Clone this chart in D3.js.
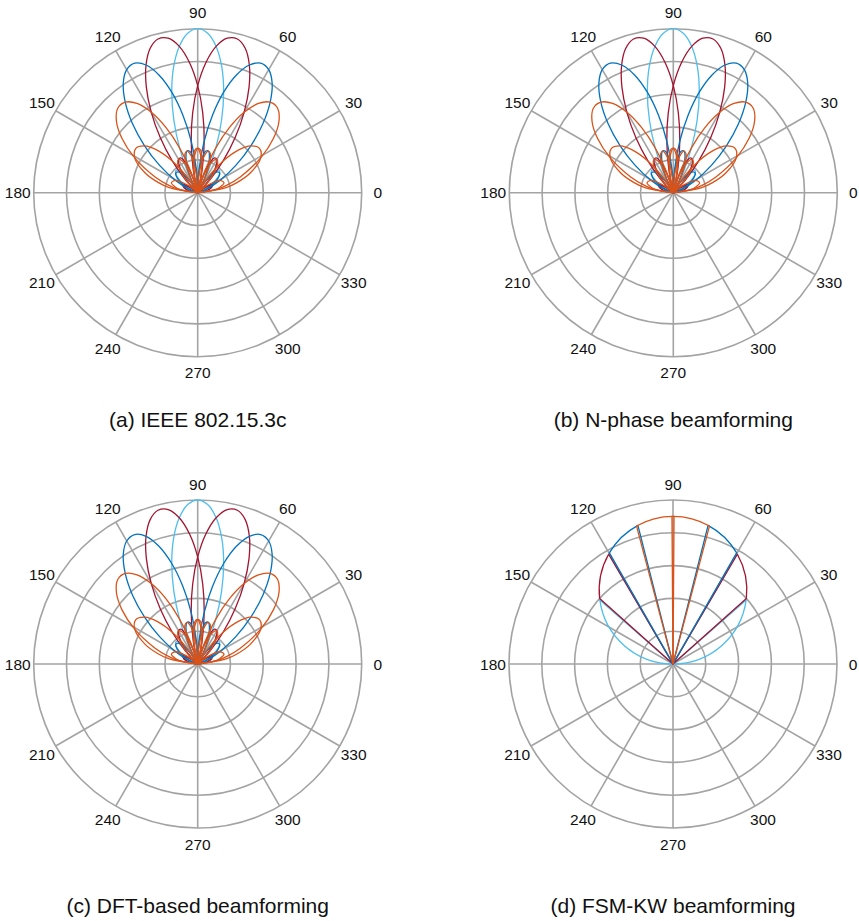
<!DOCTYPE html>
<html>
<head>
<meta charset="utf-8">
<script src="https://cdnjs.cloudflare.com/ajax/libs/d3/7.8.5/d3.min.js"></script>
<style>
	body { margin: 0; background: #fff; }
	svg { display: block; }
	text { font-family: "Liberation Sans", Arial, Helvetica, sans-serif; fill: #111; }
</style>
</head>
<body>
<svg id="chart" width="859" height="921"></svg>
<script>
// shared angle grid (degrees) for the beam patterns
var thetaDeg = [0, 10.14, 14.36, 20.36, 28.96, 35.66, 41.41, 46.57, 51.32, 55.77, 60, 64.06, 67.98, 71.79, 75.52, 79.19, 82.82, 86.42, 90,
	93.58, 97.18, 100.81, 104.48, 108.21, 112.02, 115.94, 120, 124.23, 128.68, 133.43, 138.59, 144.34, 151.04, 159.64, 165.64, 169.86, 180];

// gain, one list per beam
var beam90 = [0, .004, .012, .034, .087, .141, .179, .190, .166, .102, 0, .136, .295, .465, .633, .782, .899, .974, 1,
	.974, .899, .782, .633, .465, .295, .136, 0, .102, .166, .190, .179, .141, .087, .034, .012, .004, 0];
var beam76 = [0, .048, .067, .091, .103, .072, 0, .110, .248, .405, .566, .716, .840, .927, .968, .959, .899, .794, .653,
	.489, .316, .148, 0, .118, .197, .236, .234, .200, .141, .070, 0, .056, .087, .084, .065, .047, 0];
var beam104 = [0, .047, .065, .084, .087, .056, 0, .070, .141, .200, .234, .236, .197, .118, 0, .148, .316, .489, .653,
	.794, .899, .959, .968, .927, .840, .716, .566, .405, .248, .110, 0, .072, .103, .091, .067, .048, 0];
var beam60 = [0, .006, .018, .053, .154, .286, .432, .578, .707, .807, .866, .878, .840, .756, .633, .481, .316, .151, 0,
	.124, .211, .257, .262, .229, .167, .086, 0, .080, .141, .175, .179, .153, .103, .043, .016, .006, 0];
var beam120 = [0, .006, .016, .043, .103, .153, .179, .175, .141, .080, 0, .086, .167, .229, .262, .257, .211, .124, 0,
	.151, .316, .481, .633, .756, .840, .878, .866, .807, .707, .578, .432, .286, .154, .053, .018, .006, 0];
var beam41 = [0, .122, .181, .277, .439, .569, .661, .709, .707, .658, .566, .441, .295, .143, 0, .122, .211, .261, .271,
	.241, .179, .094, 0, .091, .167, .217, .234, .217, .166, .090, 0, .088, .154, .171, .142, .108, 0];
var beam139 = [0, .108, .142, .171, .154, .088, 0, .090, .166, .217, .234, .217, .167, .091, 0, .094, .179, .241, .271,
	.261, .211, .122, 0, .143, .295, .441, .566, .658, .707, .709, .661, .569, .439, .277, .181, .122, 0];
var beamEnd = [0, .176, .247, .340, .439, .464, .432, .356, .248, .125, 0, .111, .197, .249, .262, .237, .179, .096, 0,
	.096, .179, .237, .262, .249, .197, .111, 0, .125, .248, .356, .432, .464, .439, .340, .247, .176, 0];

var beams = [
	{ r: beam90, color: "#4DBEEE" },
	{ r: beam76, color: "#A2142F" },
	{ r: beam104, color: "#A2142F" },
	{ r: beam60, color: "#0072BD" },
	{ r: beam120, color: "#0072BD" },
	{ r: beam41, color: "#D95319" },
	{ r: beam139, color: "#D95319" },
	{ r: beamEnd, color: "#D95319" }
];

// FSM-KW flat-top sectors: [start deg, end deg, gain at start, gain at end]
var fsmLightBlue = [[0, 41.2, 0, .593], [138.8, 180, .593, 0]];
var fsmDarkRed = [[41.8, 59.6, .600, .776], [120.4, 138.2, .776, .600]];
var fsmBlue = [[60.2, 75.8, .781, .872], [104.2, 119.8, .872, .781]];
var fsmOrange = [[75.2, 90.4, .870, .900], [89.6, 104.8, .900, .870]];
var fsmEnvelope = 0.9;

var ringTicks = [0.2, 0.4, 0.6, 0.8, 1];
var angleTicks = [0, 30, 60, 90, 120, 150, 180, 210, 240, 270, 300, 330];
var panelTitles = ["(a) IEEE 802.15.3c", "(b) N-phase beamforming", "(c) DFT-based beamforming", "(d) FSM-KW beamforming"];

var RADIUS = 164,
	LABEL_R = 180;

var svg = d3.select("#chart");

var rScale = d3.scaleLinear().domain([0, 1]).range([0, RADIUS]);
// math angle (0 = east, counter-clockwise) -> d3 radial angle (0 = north, clockwise)
var angleScale = d3.scaleLinear().domain([0, 360]).range([Math.PI / 2, Math.PI / 2 - 2 * Math.PI]);

var line = d3.lineRadial()
	.angle(function(d) { return angleScale(d[0]); })
	.radius(function(d) { return rScale(d[1]); })
	.curve(d3.curveCatmullRom.alpha(0.5));

var panels = [
	{ cx: 197.7, cy: 192.7, titleY: 427, kind: "beams" },
	{ cx: 673.3, cy: 192.7, titleY: 427, kind: "beams" },
	{ cx: 197.7, cy: 664, titleY: 913, kind: "beams" },
	{ cx: 673, cy: 664, titleY: 913, kind: "fsm" }
];

// break a pattern into lobes at its nulls
var split_lobes = function(rs) {
	var lobes = [], cur = [];
	rs.forEach(function(r, i) {
		var p = [thetaDeg[i], r];
		cur.push(p);
		if (r === 0 && cur.length > 1) {
			lobes.push(cur);
			cur = [p];
		}
	});
	return lobes;
};

var draw_grid = function(g) {
	g.selectAll(".ring")
		.data(ringTicks)
		.enter()
		.append("circle")
		.attr("r", function(d) { return rScale(d); })
		.style("fill", "none")
		.style("stroke", "#a3a3a3")
		.style("stroke-width", "1.6px");

	g.selectAll(".spoke")
		.data(angleTicks)
		.enter()
		.append("line")
		.attr("x1", 0)
		.attr("y1", 0)
		.attr("x2", function(d) { return d3.pointRadial(angleScale(d), RADIUS)[0]; })
		.attr("y2", function(d) { return d3.pointRadial(angleScale(d), RADIUS)[1]; })
		.style("stroke", "#a3a3a3")
		.style("stroke-width", "1.6px");

	g.selectAll(".alabel")
		.data(angleTicks)
		.enter()
		.append("text")
		.attr("x", function(d) { return d3.pointRadial(angleScale(d), LABEL_R)[0]; })
		.attr("y", function(d) { return d3.pointRadial(angleScale(d), LABEL_R)[1]; })
		.attr("dy", "0.36em")
		.style("font-size", "15.5px")
		.style("text-anchor", "middle")
		.text(function(d) { return d; });
};

var draw_beams = function(g) {
	beams.forEach(function(b) {
		g.selectAll(null)
			.data(split_lobes(b.r))
			.enter()
			.append("path")
			.attr("d", line)
			.style("fill", "none")
			.style("stroke", b.color)
			.style("stroke-width", "1.3px");
	});
};

var draw_fsm = function(g) {
	var ar = rScale(fsmEnvelope / 2);
	var groups = [
		{ sectors: fsmLightBlue, color: "#4DBEEE" },
		{ sectors: fsmDarkRed, color: "#A2142F" },
		{ sectors: fsmBlue, color: "#0072BD" },
		{ sectors: fsmOrange, color: "#D95319" }
	];
	groups.forEach(function(grp) {
		g.selectAll(null)
			.data(grp.sectors)
			.enter()
			.append("path")
			.attr("d", function(s) {
				var p1 = d3.pointRadial(angleScale(s[0]), rScale(s[2]));
				var p2 = d3.pointRadial(angleScale(s[1]), rScale(s[3]));
				return "M0,0L" + p1[0] + "," + p1[1] +
					"A" + ar + "," + ar + " 0 0 0 " + p2[0] + "," + p2[1] + "Z";
			})
			.style("fill", "none")
			.style("stroke", grp.color)
			.style("stroke-width", "1.3px")
			.style("stroke-linejoin", "round");
	});
};

panels.forEach(function(p, i) {
	var g = svg.append("g")
		.attr("transform", "translate(" + p.cx + "," + p.cy + ")");
	draw_grid(g);
	if (p.kind === "beams") {
		draw_beams(g);
	} else {
		draw_fsm(g);
	}
	svg.append("text")
		.attr("x", p.cx)
		.attr("y", p.titleY)
		.style("font-size", "21px")
		.style("text-anchor", "middle")
		.text(panelTitles[i]);
});
</script>
</body>
</html>
